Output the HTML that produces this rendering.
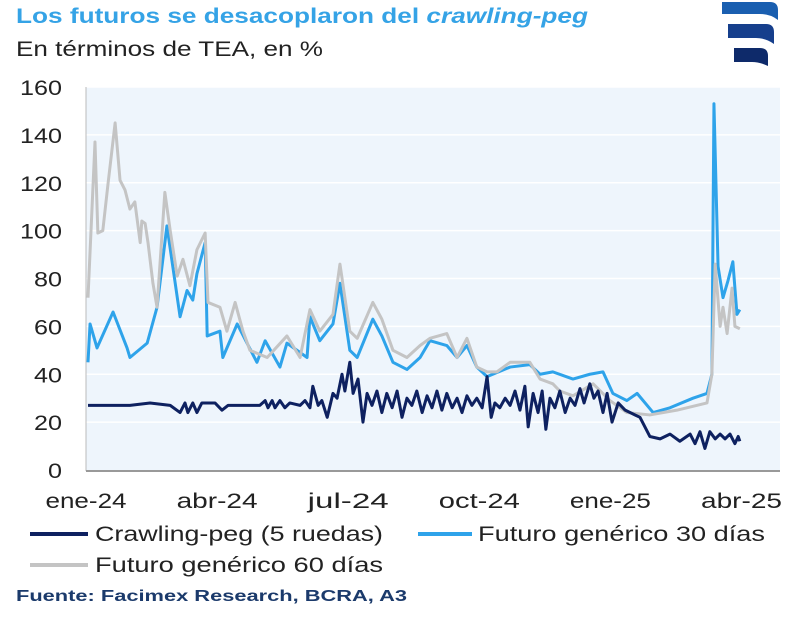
<!DOCTYPE html>
<html><head><meta charset="utf-8"><style>
body{margin:0;background:#fff;width:800px;height:616px;overflow:hidden;font-family:"Liberation Sans",sans-serif}
</style></head><body>
<svg width="800" height="616" xmlns="http://www.w3.org/2000/svg">
<text x="16" y="23" font-size="21" font-weight="bold" fill="#35a3e6" textLength="572" lengthAdjust="spacingAndGlyphs">Los futuros se desacoplaron del <tspan font-style="italic">crawling-peg</tspan></text>
<text x="16" y="56" font-size="21" fill="#222" textLength="307" lengthAdjust="spacingAndGlyphs">En términos de TEA, en %</text>
<g>
<path d="M722 2 H770 Q778 2 778 10 V20 Q770 14 760 14 H722 Z" fill="#1a5fb0"/>
<path d="M728 24 H766 Q774 24 774 32 V44 Q766 38 756 38 H728 Z" fill="#163f8c"/>
<path d="M734 48 H760 Q768 48 768 56 V66 Q760 62 752 62 H734 Z" fill="#0e2a6a"/>
</g>
<rect x="86" y="87" width="694" height="383" fill="#eef5fc"/>
<g id="grid"></g>
<line x1="86" y1="87" x2="86" y2="471" stroke="#bbb" stroke-width="1"/>
<line x1="86" y1="471" x2="780" y2="471" stroke="#999" stroke-width="2"/>
<g id="yt" font-size="21" fill="#222"></g>
<g id="xt" font-size="21" fill="#222"></g>
<g id="series"></g>
<g font-size="21" fill="#222">
<line x1="30" y1="534" x2="88" y2="534" stroke="#0e2160" stroke-width="4"/>
<text x="95" y="541" textLength="288" lengthAdjust="spacingAndGlyphs">Crawling-peg (5 ruedas)</text>
<line x1="418" y1="534" x2="472" y2="534" stroke="#2ea3ea" stroke-width="4"/>
<text x="478" y="541" textLength="287" lengthAdjust="spacingAndGlyphs">Futuro genérico 30 días</text>
<line x1="30" y1="565" x2="88" y2="565" stroke="#c4c4c4" stroke-width="4"/>
<text x="95" y="572" textLength="288" lengthAdjust="spacingAndGlyphs">Futuro genérico 60 días</text>
</g>
<text x="16" y="601" font-size="16" font-weight="bold" fill="#1b3a6b" textLength="391" lengthAdjust="spacingAndGlyphs">Fuente: Facimex Research, BCRA, A3</text>
</svg>
<script>
const yTicks=[0,20,40,60,80,100,120,140,160];
const xLabels=["ene-24","abr-24","jul-24","oct-24","ene-25","abr-25"];
const xLabelMonths=[0,3,6,9,12,15];
const crawlT=[0,1.02,1.51,2.0,2.24,2.36,2.43,2.55,2.65,2.77,3.09,3.26,3.41,4.18,4.31,4.38,4.48,4.55,4.67,4.79,4.91,5.16,5.28,5.4,5.47,5.6,5.69,5.82,5.96,6.06,6.18,6.25,6.37,6.45,6.57,6.69,6.79,6.91,7.03,7.15,7.27,7.4,7.52,7.64,7.76,7.88,8.0,8.13,8.25,8.37,8.49,8.61,8.73,8.86,8.98,9.1,9.22,9.34,9.46,9.59,9.71,9.81,9.9,10.02,10.15,10.27,10.39,10.51,10.63,10.71,10.83,10.95,11.05,11.14,11.24,11.36,11.48,11.61,11.73,11.85,11.97,12.07,12.21,12.31,12.41,12.53,12.63,12.75,12.9,13.07,13.43,13.67,13.92,14.16,14.4,14.65,14.77,14.89,15.01,15.13,15.26,15.38,15.5,15.62,15.74,15.82,15.86];
const crawlV=[27,27,28,27,24,28,24,28,24,28,28,25,27,27,29,26,29,26,29,26,28,27,29,26,35,27,29,22,32,30,40,33,45,32,38,20,32,27,33,24,32,26,33,22,30,27,33,24,31,26,33,25,32,26,30,24,31,27,30,26,39,22,28,26,30,27,33,25,35,18,32,24,33,17,30,26,33,24,30,27,34,28,36,30,33,24,32,20,28,25,22,14,13,15,12,15,11,16,9,16,13,15,13,15,11,14,12];
const f30T=[0,0.05,0.22,0.61,0.95,1.02,1.44,1.68,1.92,2.24,2.41,2.55,2.65,2.85,2.9,3.21,3.28,3.63,3.87,4.11,4.31,4.67,4.84,5.33,5.4,5.64,5.96,6.13,6.37,6.55,6.93,7.15,7.42,7.76,8.08,8.32,8.73,8.98,9.22,9.46,9.71,10.27,10.75,11.0,11.31,11.8,12.21,12.53,12.77,13.11,13.36,13.75,14.16,14.72,15.06,15.18,15.23,15.33,15.45,15.57,15.69,15.79,15.86];
const f30V=[45,61,51,66,51,47,53,68,102,64,75,71,82,95,56,58,47,61,53,45,54,43,53,47,64,54,61,78,50,47,63,56,45,42,47,54,52,47,52,43,39,43,44,40,41,38,40,41,32,29,32,24,26,30,32,40,153,85,72,79,87,65,67];
const f60T=[0,0.17,0.24,0.36,0.49,0.66,0.78,0.9,1.02,1.14,1.27,1.31,1.39,1.46,1.58,1.68,1.87,2.0,2.17,2.31,2.48,2.65,2.85,2.92,3.21,3.38,3.58,3.77,3.94,4.36,4.84,5.16,5.4,5.64,5.96,6.13,6.37,6.55,6.93,7.15,7.42,7.76,8.08,8.32,8.73,8.98,9.22,9.46,9.71,9.95,10.27,10.75,11.0,11.31,11.48,11.8,12.29,12.7,13.11,13.67,14.33,15.06,15.18,15.26,15.38,15.45,15.55,15.67,15.74,15.86];
const f60V=[72,137,99,100,120,145,121,117,109,112,95,104,103,95,78,68,116,100,81,88,77,92,99,70,68,58,70,58,50,47,56,47,67,58,65,86,58,55,70,63,50,47,52,55,57,47,55,43,41,41,45,45,38,36,33,31,36,29,24,23,25,28,40,86,60,68,57,76,60,59];
const X0=88,PX=41.1,Y0=470,YS=383/160;
const xs=m=>X0+m*PX, ys=v=>Y0-v*YS;
const lx=m=>86+m*43.7;
const NS="http://www.w3.org/2000/svg";
const grid=document.getElementById('grid'),yt=document.getElementById('yt'),xt=document.getElementById('xt'),ser=document.getElementById('series');
yTicks.forEach(v=>{
 if(v>0){const l=document.createElementNS(NS,'line');l.setAttribute('x1',86);l.setAttribute('x2',780);l.setAttribute('y1',ys(v));l.setAttribute('y2',ys(v));l.setAttribute('stroke','#fff');l.setAttribute('stroke-width','1.5');
 
 grid.appendChild(l);}
 const t=document.createElementNS(NS,'text');t.setAttribute('x',62);t.setAttribute('y',ys(v)+8);t.setAttribute('text-anchor','end');t.textContent=v;
 const w=String(v).length*14;t.setAttribute('textLength',w);t.setAttribute('lengthAdjust','spacingAndGlyphs');
 
 yt.appendChild(t);
});
xLabels.forEach((s,i)=>{const t=document.createElementNS(NS,'text');t.setAttribute('x',lx(xLabelMonths[i])-(s.length*13.5)/2);t.setAttribute('y',508);t.setAttribute('textLength',s.length*13.5);t.setAttribute('lengthAdjust','spacingAndGlyphs');t.textContent=s;
 
 xt.appendChild(t);});
function line(T,V,c,name){const p=document.createElementNS(NS,'polyline');p.setAttribute('points',T.map((t,i)=>xs(t)+','+ys(V[i])).join(' '));p.setAttribute('fill','none');p.setAttribute('stroke',c);p.setAttribute('stroke-width','3');p.setAttribute('stroke-linejoin','round');
 
 ser.appendChild(p);}
line(f30T,f30V,'#2ea3ea','series-futuro-30');
line(f60T,f60V,'#c4c4c4','series-futuro-60');
line(crawlT,crawlV,'#0e2160','series-crawling-peg');
</script>
</body></html>
